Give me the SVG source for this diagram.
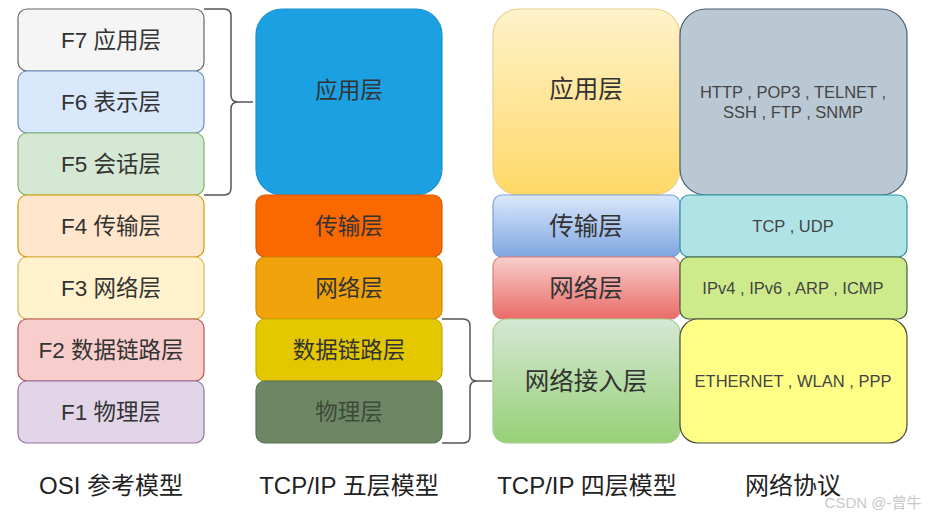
<svg xmlns="http://www.w3.org/2000/svg" width="930" height="517" viewBox="0 0 930 517">
<style>
text{font-family:"Liberation Sans","Noto Sans CJK SC",sans-serif;text-anchor:middle;dominant-baseline:central;fill:#333333}
.osi{font-size:22.5px}
.five{font-size:22.5px}
.four{font-size:24.5px}
.proto{font-size:16.5px;fill:#444}
.cap{font-size:24px;fill:#222}
.br{fill:none;stroke:#555;stroke-width:1.5}
rect{stroke-width:1.2}
</style>
<defs>
<linearGradient id="gY" x1="0" y1="0" x2="0" y2="1"><stop offset="0" stop-color="#fff2cc"/><stop offset="1" stop-color="#ffd966"/></linearGradient>
<linearGradient id="gB" x1="0" y1="0" x2="0" y2="1"><stop offset="0" stop-color="#dae8fc"/><stop offset="1" stop-color="#7ea6e0"/></linearGradient>
<linearGradient id="gR" x1="0" y1="0" x2="0" y2="1"><stop offset="0" stop-color="#f8cecc"/><stop offset="1" stop-color="#ea6b66"/></linearGradient>
<linearGradient id="gG" x1="0" y1="0" x2="0" y2="1"><stop offset="0" stop-color="#d5e8d4"/><stop offset="1" stop-color="#97d077"/></linearGradient>
</defs>

<g id="osi-f7"><rect x="18" y="9" width="186" height="62" rx="9" fill="#f5f5f5" stroke="#666666"/><text class="osi" x="111" y="40">F7 应用层</text></g>
<g id="osi-f6"><rect x="18" y="71" width="186" height="62" rx="9" fill="#dae8fc" stroke="#6c8ebf"/><text class="osi" x="111" y="102">F6 表示层</text></g>
<g id="osi-f5"><rect x="18" y="133" width="186" height="62" rx="9" fill="#d5e8d4" stroke="#82b366"/><text class="osi" x="111" y="164">F5 会话层</text></g>
<g id="osi-f4"><rect x="18" y="195" width="186" height="62" rx="9" fill="#ffe6cc" stroke="#d79b00"/><text class="osi" x="111" y="226">F4 传输层</text></g>
<g id="osi-f3"><rect x="18" y="257" width="186" height="62" rx="9" fill="#fff2cc" stroke="#d6b656"/><text class="osi" x="111" y="288">F3 网络层</text></g>
<g id="osi-f2"><rect x="18" y="319" width="186" height="62" rx="9" fill="#f8cecc" stroke="#b85450"/><text class="osi" x="111" y="350">F2 数据链路层</text></g>
<g id="osi-f1"><rect x="18" y="381" width="186" height="62" rx="9" fill="#e1d5e7" stroke="#9673a6"/><text class="osi" x="111" y="412">F1 物理层</text></g>

<g id="five-app"><rect x="256" y="9" width="186" height="186" rx="26" fill="#1ba1e2" stroke="#1b8fd0"/><text class="five" x="349" y="90">应用层</text></g>
<g id="five-transport"><rect x="256" y="195" width="186" height="62" rx="9" fill="#fa6800" stroke="#d95a00"/><text class="five" x="349" y="226">传输层</text></g>
<g id="five-network"><rect x="256" y="257" width="186" height="62" rx="9" fill="#f0a30a" stroke="#d08a00"/><text class="five" x="349" y="288">网络层</text></g>
<g id="five-datalink"><rect x="256" y="319" width="186" height="62" rx="9" fill="#e3c800" stroke="#c4ab00"/><text class="five" x="349" y="350">数据链路层</text></g>
<g id="five-physical"><rect x="256" y="381" width="186" height="62" rx="9" fill="#6d8764" stroke="#5a7452"/><text class="five" x="349" y="412" style="fill:#3d4a38">物理层</text></g>

<g id="four-app"><rect x="493" y="9" width="187" height="186" rx="26" fill="url(#gY)" stroke="#e8d28a"/><text class="four" x="586" y="89">应用层</text></g>
<g id="four-transport"><rect x="493" y="195" width="187" height="62" rx="9" fill="url(#gB)" stroke="#7a9fd6"/><text class="four" x="586" y="226">传输层</text></g>
<g id="four-network"><rect x="493" y="257" width="187" height="62" rx="9" fill="url(#gR)" stroke="#e07a76"/><text class="four" x="586" y="288">网络层</text></g>
<g id="four-access"><rect x="493" y="319" width="187" height="124" rx="14" fill="url(#gG)" stroke="#a3cf8e"/><text class="four" x="586" y="381">网络接入层</text></g>

<g id="proto-app"><rect x="680" y="9" width="227" height="186" rx="26" fill="#bac8d3" stroke="#4a5e70"/><text class="proto" x="793" y="92">HTTP , POP3 , TELNET ,</text><text class="proto" x="793" y="112">SSH , FTP , SNMP</text></g>
<g id="proto-transport"><rect x="680" y="195" width="227" height="62" rx="9" fill="#b0e3e6" stroke="#2a9aa0"/><text class="proto" x="793" y="226">TCP , UDP</text></g>
<g id="proto-network"><rect x="680" y="257" width="227" height="62" rx="9" fill="#cdeb8b" stroke="#4a5d3a"/><text class="proto" x="793" y="288">IPv4 , IPv6 , ARP , ICMP</text></g>
<g id="proto-access"><rect x="680" y="319" width="227" height="124" rx="18" fill="#ffff88" stroke="#4a4a3d"/><text class="proto" x="793" y="381">ETHERNET , WLAN , PPP</text></g>

<g id="connectors">
<path class="br" d="M204 9 H224 Q231 9 231 16 V95 Q231 102 238 102 H253 M238 102 Q231 102 231 109 V188 Q231 195 224 195 H204"/>
<path class="br" d="M442 319 H463 Q470 319 470 326 V374 Q470 381 477 381 H492 M477 381 Q470 381 470 388 V436 Q470 443 463 443 H442"/>
</g>

<g id="captions">
<text class="cap" x="111" y="485">OSI 参考模型</text>
<text class="cap" x="349" y="485">TCP/IP 五层模型</text>
<text class="cap" x="587" y="485">TCP/IP 四层模型</text>
<text class="cap" x="793" y="485">网络协议</text>
<text x="873" y="502" style="font-size:15px;fill:#c8c8c8">CSDN @-曾牛</text>
</g>
</svg>
